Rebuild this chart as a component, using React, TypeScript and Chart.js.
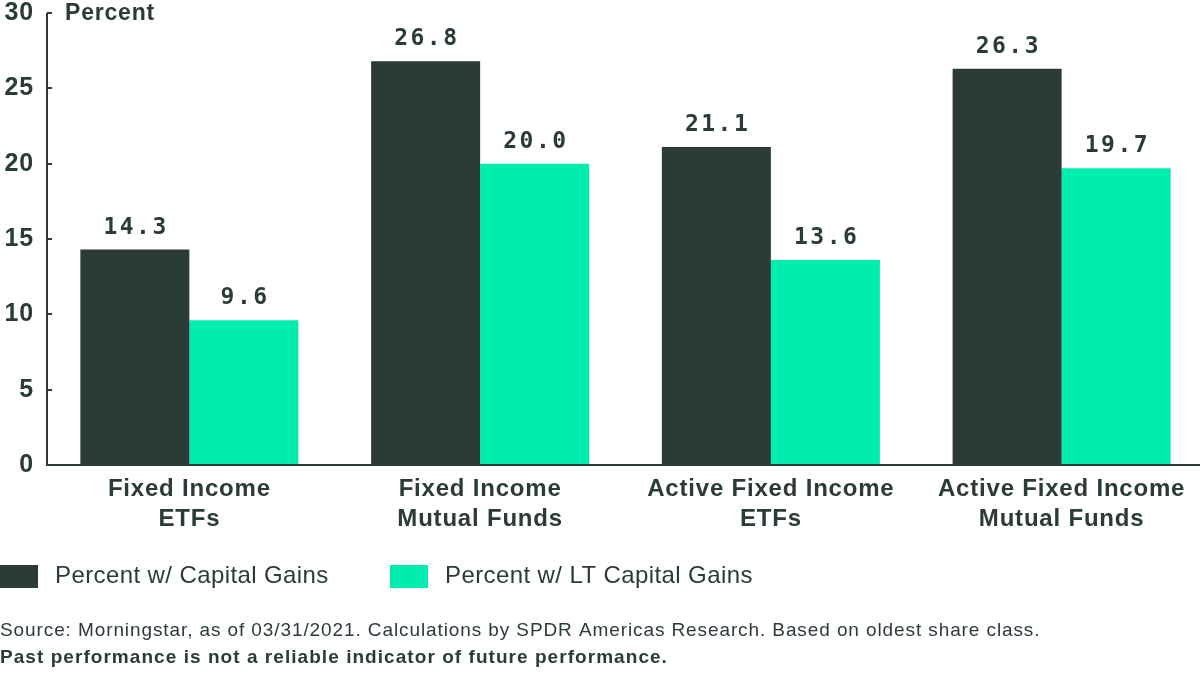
import React, { useEffect, useRef } from "react";
import { Chart, registerables } from "chart.js";

Chart.register(...registerables);

const categories: string[][] = [
  ["Fixed Income", "ETFs"],
  ["Fixed Income", "Mutual Funds"],
  ["Active Fixed Income", "ETFs"],
  ["Active Fixed Income", "Mutual Funds"],
];
const capitalGains = [14.3, 26.8, 21.1, 26.3];
const ltCapitalGains = [9.6, 20.0, 13.6, 19.7];
const seriesNames = ["Percent w/ Capital Gains", "Percent w/ LT Capital Gains"];
const yTickValues = [0, 5, 10, 15, 20, 25, 30];
const axisTitle = "Percent";
const sourceNote =
  "Source: Morningstar, as of 03/31/2021. Calculations by SPDR Americas Research. Based on oldest share class.";
const disclaimer = "Past performance is not a reliable indicator of future performance.";

const DARK = "#2a3c35";
const MINT = "#00edb0";
const SANS = "'Liberation Sans', Arial, sans-serif";
const MONO = "'DejaVu Sans Mono', monospace";
const AXIS_SHIFT = 3;

function drawText(
  ctx: CanvasRenderingContext2D,
  text: string,
  x: number,
  y: number,
  font: string,
  align: CanvasTextAlign,
  spacing = 0
) {
  ctx.save();
  ctx.font = font;
  ctx.fillStyle = DARK;
  ctx.textAlign = align;
  ctx.textBaseline = "middle";
  (ctx as any).letterSpacing = spacing + "px";
  ctx.fillText(text, align === "center" ? x + spacing / 2 : x, y);
  ctx.restore();
}

const decorPlugin = {
  id: "decor",
  beforeDraw(chart: any) {
    (chart.ctx as any).letterSpacing = "0.8px";
  },
  beforeDatasetsDraw(chart: any) {
    (chart.ctx as any).letterSpacing = "0px";
  },
  afterDatasetsDraw(chart: any) {
    const ctx: CanvasRenderingContext2D = chart.ctx;
    chart.data.datasets.forEach((ds: any, di: number) => {
      const meta = chart.getDatasetMeta(di);
      meta.data.forEach((el: any, i: number) => {
        drawText(ctx, Number(ds.data[i]).toFixed(1), el.x, el.y - 22, `bold 23px ${MONO}`, "center", 2.5);
      });
    });
  },
  afterDraw(chart: any) {
    const ctx: CanvasRenderingContext2D = chart.ctx;
    const area = chart.chartArea;
    const y = chart.scales.y;
    const ax = area.left + AXIS_SHIFT;
    ctx.save();
    ctx.strokeStyle = DARK;
    ctx.lineWidth = 2;
    ctx.beginPath();
    ctx.moveTo(ax, area.top);
    ctx.lineTo(ax, area.bottom + 1);
    ctx.moveTo(ax - 1, area.bottom);
    ctx.lineTo(area.right, area.bottom);
    ctx.stroke();
    yTickValues.forEach((v) => {
      const py = Math.round(y.getPixelForValue(v));
      ctx.beginPath();
      ctx.moveTo(ax, py);
      ctx.lineTo(ax + 5, py);
      ctx.stroke();
    });
    ctx.restore();
    drawText(ctx, axisTitle, 65, area.top + 1, `bold 23px ${SANS}`, "left", 0.8);
    const colors = [DARK, MINT];
    const legendX = [0, 390];
    const ly = 576;
    seriesNames.forEach((name, i) => {
      ctx.save();
      ctx.fillStyle = colors[i];
      ctx.fillRect(legendX[i], ly - 11, 38, 23);
      ctx.restore();
      drawText(ctx, name, legendX[i] + 55, ly, `24px ${SANS}`, "left", 0.4);
    });
    drawText(ctx, sourceNote, 0, 631, `19px ${SANS}`, "left", 0.9);
    drawText(ctx, disclaimer, 0, 658, `bold 19px ${SANS}`, "left", 1.05);
  },
};

export default function App() {
  const ref = useRef<HTMLCanvasElement | null>(null);
  useEffect(() => {
    if (!ref.current) return;
    const chart = new Chart(ref.current, {
      type: "bar",
      data: {
        labels: categories,
        datasets: [
          {
            label: seriesNames[0],
            data: capitalGains,
            backgroundColor: DARK,
            barPercentage: 1,
            categoryPercentage: 0.75,
          },
          {
            label: seriesNames[1],
            data: ltCapitalGains,
            backgroundColor: MINT,
            barPercentage: 1,
            categoryPercentage: 0.75,
          },
        ],
      },
      options: {
        animation: false,
        responsive: false,
        maintainAspectRatio: false,
        layout: { padding: { top: 13, bottom: 140, left: 0, right: 0 } },
        plugins: {
          legend: { display: false },
          tooltip: { enabled: false },
          title: { display: false },
        },
        scales: {
          x: {
            grid: { display: false, drawTicks: false },
            border: { display: false },
            ticks: {
              color: DARK,
              font: { family: SANS, size: 24, weight: "bold", lineHeight: 1.22 },
              padding: 10,
              maxRotation: 0,
              autoSkip: false,
            },
            afterFit: (s: any) => {
              s.height = 70;
              s.paddingLeft = 0;
              s.paddingRight = 0;
            },
          },
          y: {
            min: 0,
            max: 30,
            grid: { display: false, drawTicks: false },
            border: { display: false },
            ticks: {
              stepSize: 5,
              color: DARK,
              font: { family: SANS, size: 25, weight: "bold" },
              padding: 10,
            },
            afterFit: (s: any) => {
              s.width = 44;
              s.paddingTop = 0;
              s.paddingBottom = 0;
            },
          },
        },
      },
      plugins: [decorPlugin],
    });
    return () => chart.destroy();
  }, []);
  return (
    <div
      style={{
        position: "fixed",
        left: 0,
        top: 0,
        width: 1200,
        height: 675,
        overflow: "hidden",
        background: "#fff",
      }}
    >
      <canvas ref={ref} width={1207} height={675} style={{ display: "block" }} />
    </div>
  );
}
